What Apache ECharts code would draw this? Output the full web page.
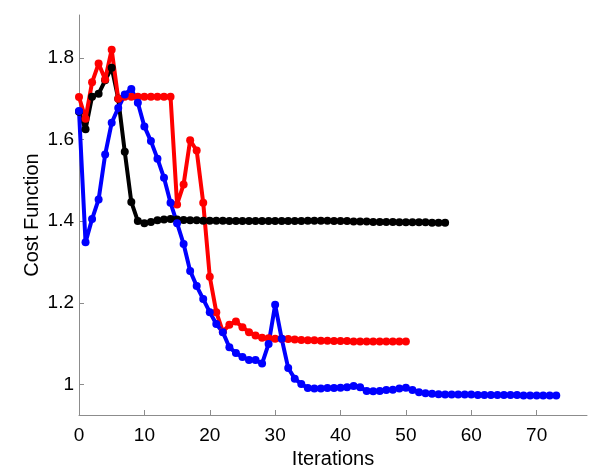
<!DOCTYPE html>
<html>
<head>
<meta charset="utf-8">
<script src="https://cdn.jsdelivr.net/npm/echarts@6/dist/echarts.min.js"></script>
<style>
  html, body { margin: 0; padding: 0; background: #fff; }
  #chart { width: 600px; height: 474px; }
</style>
</head>
<body>
<div id="chart"></div>
<script>
// values
var blackCost = [1.668, 1.625, 1.705, 1.712, 1.745, 1.776, 1.700, 1.570, 1.447, 1.400,
  1.395, 1.398, 1.402, 1.404, 1.405, 1.404, 1.403, 1.402, 1.402, 1.401,
  1.401, 1.401, 1.401, 1.400, 1.400, 1.400, 1.400, 1.400, 1.400, 1.400,
  1.400, 1.400, 1.400, 1.400, 1.400, 1.401, 1.401, 1.401, 1.401, 1.400,
  1.400, 1.400, 1.399, 1.399, 1.399, 1.398, 1.398, 1.398, 1.398, 1.397,
  1.397, 1.397, 1.397, 1.397, 1.396, 1.396, 1.396];

var redCost = [1.704, 1.651, 1.740, 1.786, 1.747, 1.820, 1.700, 1.705, 1.705, 1.705,
  1.705, 1.705, 1.705, 1.705, 1.705, 1.441, 1.490, 1.598, 1.573, 1.445,
  1.264, 1.177, 1.129, 1.146, 1.154, 1.140, 1.128, 1.120, 1.114, 1.113,
  1.112, 1.112, 1.111, 1.110, 1.109, 1.108, 1.108, 1.107, 1.107, 1.106,
  1.106, 1.106, 1.105, 1.105, 1.105, 1.105, 1.105, 1.105, 1.105, 1.105,
  1.105];

var blueCost = [1.670, 1.348, 1.405, 1.453, 1.563, 1.641, 1.677, 1.710, 1.724, 1.690,
  1.632, 1.596, 1.553, 1.506, 1.445, 1.395, 1.344, 1.278, 1.241, 1.209,
  1.177, 1.148, 1.128, 1.091, 1.077, 1.067, 1.060, 1.060, 1.051, 1.099,
  1.195, 1.112, 1.040, 1.014, 1.001, 0.991, 0.990, 0.990, 0.991, 0.991,
  0.992, 0.993, 0.996, 0.993, 0.984, 0.983, 0.984, 0.986, 0.987, 0.990,
  0.992, 0.986, 0.981, 0.978, 0.977, 0.976, 0.975, 0.975, 0.975, 0.975,
  0.975, 0.974, 0.974, 0.974, 0.974, 0.974, 0.974, 0.974, 0.973, 0.973,
  0.973, 0.973, 0.973, 0.973];

var xTicks = [0, 10, 20, 30, 40, 50, 60, 70];
var yTicks = [1, 1.2, 1.4, 1.6, 1.8];

function toPoints(arr) {
  return arr.map(function (v, i) { return [i, v]; });
}

function lineSeries(name, color, arr) {
  return {
    name: name,
    type: 'line',
    data: toPoints(arr),
    symbol: 'circle',
    symbolSize: 8,
    showSymbol: true,
    animation: false,
    lineStyle: { color: color, width: 4 },
    itemStyle: { color: color }
  };
}

var chart = echarts.init(document.getElementById('chart'));
var axisGray = '#8c8c8c';
var font = 'Liberation Sans, Arial, Helvetica, sans-serif';

chart.setOption({
  backgroundColor: '#fff',
  grid: { left: 79, right: 13, top: 15, bottom: 58 },
  xAxis: {
    type: 'value',
    min: 0,
    max: 77.7,
    name: 'Iterations',
    nameLocation: 'middle',
    nameGap: 34,
    nameMoveOverlap: false,
    nameTextStyle: { color: '#000', fontSize: 20, fontFamily: font },
    splitLine: { show: false },
    axisLine: { lineStyle: { color: axisGray, width: 1 } },
    axisTick: { inside: true, length: 5, lineStyle: { color: axisGray }, customValues: xTicks },
    axisLabel: { color: '#000', fontSize: 19, fontFamily: font, margin: 11, customValues: xTicks }
  },
  yAxis: {
    type: 'value',
    min: 0.925,
    max: 1.905,
    name: 'Cost Function',
    nameLocation: 'middle',
    nameGap: 37,
    nameMoveOverlap: false,
    nameTextStyle: { color: '#000', fontSize: 20, fontFamily: font },
    splitLine: { show: false },
    axisLine: { show: true, lineStyle: { color: axisGray, width: 1 } },
    axisTick: { show: true, inside: true, length: 5, lineStyle: { color: axisGray }, customValues: yTicks },
    axisLabel: { color: '#000', fontSize: 19, fontFamily: font, margin: 5, customValues: yTicks }
  },
  series: [
    lineSeries('black', '#000000', blackCost),
    lineSeries('red', '#ff0000', redCost),
    lineSeries('blue', '#0000ff', blueCost)
  ]
});
</script>
</body>
</html>
